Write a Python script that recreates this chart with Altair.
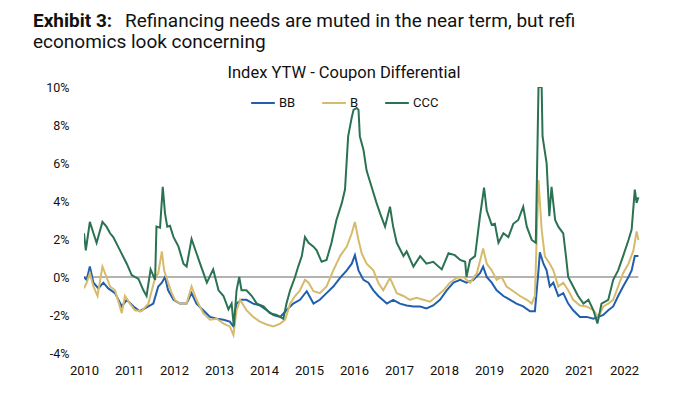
import altair as alt
import pandas as pd

# ---- data (decimal years, % differential) ----
bb_t = [2010.00, 2010.06, 2010.13, 2010.21, 2010.32, 2010.43, 2010.54, 2010.69, 2010.84, 2010.95,
        2011.10, 2011.24, 2011.43, 2011.54, 2011.65, 2011.73, 2011.80, 2011.87, 2011.99, 2012.13,
        2012.28, 2012.39, 2012.50, 2012.65, 2012.80, 2012.95, 2013.10, 2013.24, 2013.32, 2013.39,
        2013.50, 2013.61, 2013.76, 2013.91, 2014.06, 2014.21, 2014.36, 2014.50, 2014.65, 2014.80,
        2014.95, 2015.10, 2015.24, 2015.39, 2015.54, 2015.69, 2015.84, 2015.95, 2016.02, 2016.10,
        2016.21, 2016.32, 2016.43, 2016.54, 2016.73, 2016.87, 2017.02, 2017.17, 2017.32, 2017.47,
        2017.61, 2017.76, 2017.91, 2018.06, 2018.21, 2018.36, 2018.50, 2018.65, 2018.80, 2018.87,
        2018.95, 2019.06, 2019.17, 2019.32, 2019.47, 2019.61, 2019.76, 2019.91, 2020.02, 2020.10,
        2020.13, 2020.21, 2020.28, 2020.35, 2020.43, 2020.54, 2020.65, 2020.76, 2020.87, 2021.02,
        2021.17, 2021.32, 2021.43, 2021.54, 2021.65, 2021.76, 2021.87, 2021.98, 2022.10, 2022.17,
        2022.24, 2022.32]
bb_v = [0.0, -0.15, 0.55, -0.3, -0.6, -0.3, -0.6, -0.85, -1.55, -1.2,
        -1.55, -1.8, -1.55, -1.4, -0.5, -0.3, 0.0, -0.7, -1.2, -1.4,
        -1.4, -0.85, -1.4, -1.75, -2.1, -2.2, -2.25, -2.35, -2.6, -1.4,
        -1.2, -1.2, -1.4, -1.5, -1.75, -2.0, -2.1, -1.75, -1.4, -1.2,
        -0.75, -1.4, -1.2, -0.85, -0.5, -0.05, 0.35, 0.7, 1.15, 0.35,
        -0.15, -0.3, -0.7, -1.0, -1.4, -1.2, -1.4, -1.5, -1.55, -1.55,
        -1.65, -1.5, -1.2, -0.7, -0.3, -0.15, -0.3, -0.15, 0.2, 0.55,
        0.0, -0.3, -0.7, -1.0, -1.2, -1.4, -1.55, -1.8, -1.8, 0.35,
        1.3, 0.7, 0.35, -0.5, -0.3, -1.0, -0.85, -1.4, -1.75, -2.1,
        -2.1, -2.2, -2.1, -2.0, -1.75, -1.55, -1.0, -0.5, 0.0, 0.35,
        1.1, 1.1]

b_t = [2010.00, 2010.06, 2010.13, 2010.21, 2010.30, 2010.41, 2010.50, 2010.58, 2010.69, 2010.84,
       2010.91, 2011.02, 2011.13, 2011.28, 2011.43, 2011.58, 2011.65, 2011.73, 2011.78, 2011.87,
       2011.95, 2012.02, 2012.13, 2012.28, 2012.39, 2012.50, 2012.65, 2012.80, 2012.95, 2013.10,
       2013.24, 2013.32, 2013.39, 2013.47, 2013.61, 2013.76, 2013.91, 2014.06, 2014.21, 2014.36,
       2014.47, 2014.58, 2014.69, 2014.80, 2014.91, 2014.99, 2015.10, 2015.24, 2015.39, 2015.54,
       2015.69, 2015.84, 2015.95, 2016.02, 2016.10, 2016.17, 2016.28, 2016.43, 2016.54, 2016.65,
       2016.80, 2016.95, 2017.10, 2017.24, 2017.39, 2017.54, 2017.69, 2017.84, 2017.99, 2018.13,
       2018.28, 2018.43, 2018.58, 2018.73, 2018.87, 2018.95, 2019.06, 2019.17, 2019.28, 2019.39,
       2019.54, 2019.69, 2019.84, 2019.95, 2020.02, 2020.10, 2020.17, 2020.24, 2020.35, 2020.43,
       2020.54, 2020.65, 2020.76, 2020.87, 2021.02, 2021.17, 2021.32, 2021.43, 2021.54, 2021.65,
       2021.76, 2021.87, 2021.98, 2022.10, 2022.21, 2022.28, 2022.32]
b_v = [-0.6, -0.3, 0.2, -0.5, -1.0, 0.55, 0.0, -0.5, -0.7, -1.9,
       -1.0, -1.4, -1.75, -1.8, -1.4, -0.05, 0.2, 1.35, 0.35, -0.3,
       -0.85, -1.2, -1.4, -1.4, -0.5, -1.2, -1.9, -2.25, -2.2, -2.45,
       -2.6, -3.05, -1.75, -1.2, -1.75, -2.1, -2.35, -2.5, -2.6, -2.45,
       -2.25, -1.4, -1.0, -0.7, -0.15, -0.3, -0.75, -0.85, -0.5, 0.35,
       1.1, 1.6, 2.3, 2.9, 1.95, 1.25, 0.7, 0.35, -0.3, -0.7,
       -0.05, -0.85, -1.0, -1.2, -1.1, -1.2, -1.3, -1.0, -0.7, -0.3,
       -0.05, 0.0, -0.3, 0.2, 1.5, 0.7, 0.35, -0.15, 0.0, -0.5,
       -0.75, -1.0, -1.2, -1.4, -1.0, 5.1, 2.5, 1.1, 0.7, 0.35,
       -0.5, -0.3, -0.7, -1.2, -1.5, -1.55, -1.75, -2.1, -1.55, -1.4,
       -1.2, -0.5, 0.2, 0.7, 1.4, 2.4, 1.95]

ccc_t = [2010.00, 2010.04, 2010.13, 2010.21, 2010.28, 2010.41, 2010.50, 2010.58, 2010.65, 2010.80,
         2010.95, 2011.06, 2011.21, 2011.32, 2011.39, 2011.48, 2011.58, 2011.61, 2011.69, 2011.75,
         2011.80, 2011.85, 2011.91, 2011.99, 2012.10, 2012.21, 2012.28, 2012.39, 2012.50, 2012.58,
         2012.73, 2012.87, 2012.99, 2013.10, 2013.21, 2013.28, 2013.33, 2013.39, 2013.45, 2013.50,
         2013.61, 2013.73, 2013.84, 2013.99, 2014.13, 2014.28, 2014.43, 2014.50, 2014.58, 2014.69,
         2014.76, 2014.84, 2014.91, 2014.99, 2015.10, 2015.17, 2015.28, 2015.39, 2015.50, 2015.61,
         2015.73, 2015.80, 2015.87, 2015.95, 2015.99, 2016.06, 2016.10, 2016.13, 2016.21, 2016.28,
         2016.39, 2016.50, 2016.58, 2016.69, 2016.80, 2016.87, 2016.95, 2017.10, 2017.17, 2017.32,
         2017.47, 2017.61, 2017.76, 2017.95, 2018.10, 2018.24, 2018.36, 2018.47, 2018.50, 2018.58,
         2018.69, 2018.80, 2018.89, 2018.95, 2019.06, 2019.13, 2019.21, 2019.32, 2019.43, 2019.54,
         2019.65, 2019.76, 2019.84, 2019.95, 2020.04, 2020.10, 2020.17, 2020.19, 2020.28, 2020.34,
         2020.39, 2020.47, 2020.54, 2020.65, 2020.71, 2020.76, 2020.87, 2020.98, 2021.10, 2021.21,
         2021.32, 2021.41, 2021.50, 2021.65, 2021.76, 2021.87, 2021.98, 2022.10, 2022.17, 2022.24,
         2022.28, 2022.32]
ccc_v = [2.3, 1.4, 2.9, 2.3, 1.8, 2.9, 2.65, 2.3, 2.1, 1.4,
         0.7, 0.1, -0.1, -0.7, -1.0, 0.4, -0.15, 2.65, 2.6, 4.75,
         3.35, 2.65, 2.7, 2.1, 1.6, 0.7, 0.55, 2.0, 1.25, 0.7,
         -0.3, 0.4, -0.7, -1.0, -1.7, -1.4, -2.6, -0.7, 0.0, -0.7,
         -0.7, -1.0, -1.4, -1.55, -1.9, -2.0, -2.2, -1.4, -0.7, 0.0,
         0.55, 1.1, 2.1, 1.8, 1.6, 1.4, 0.8, 0.9, 1.8, 3.0,
         3.9, 4.6, 7.4, 8.4, 8.8, 8.9, 8.8, 7.4, 6.7, 5.6,
         4.75, 3.9, 3.35, 2.65, 3.7, 2.65, 1.8, 1.1, 1.35, 0.55,
         1.1, 0.7, 0.8, 0.4, 1.25, 1.15, 0.9, 0.8, 0.0, 0.9,
         1.1, 3.2, 4.7, 3.5, 2.75, 2.8, 1.8, 2.3, 2.1, 2.8,
         3.0, 3.7, 2.65, 1.95, 1.8, 10.0, 10.0, 7.4, 6.0, 3.2,
         4.75, 3.0, 2.65, 2.3, 1.1, 0.0, -0.5, -1.0, -1.4, -1.2,
         -1.75, -2.45, -1.4, -1.2, -0.15, 0.35, 1.1, 1.95, 2.5, 4.6,
         3.9, 4.2]

series_names = ["BB", "B", "CCC"]
series_colors = ["#1f5fae", "#d6bb6c", "#2a7252"]
y_ticks = [-4, -2, 0, 2, 4, 6, 8, 10]
x_ticks = list(range(2010, 2023))

rows = []
for name, ts, vs in [("BB", bb_t, bb_v), ("B", b_t, b_v), ("CCC", ccc_t, ccc_v)]:
    for t, v in zip(ts, vs):
        rows.append({"date": t, "value": v, "series": name})
df = pd.DataFrame(rows)

FONT = "Roboto"

x_scale = alt.Scale(domain=[2010, 2022.4], nice=False, zero=False)
y_scale = alt.Scale(domain=[-4, 10], nice=False)

x_axis = alt.Axis(values=x_ticks, format="d", domain=False, ticks=False, grid=False,
                  labelPadding=11, labelFontSize=13, labelColor="#111",
                  labelFont=FONT, labelFlush=False, labelOverlap=False)
y_axis = alt.Axis(values=y_ticks, labelExpr="datum.value + '%'", domain=False,
                  ticks=False, grid=False, labelPadding=15, labelFontSize=12.5,
                  labelColor="#111", labelFont=FONT, labelOverlap=False,
                  labelFlush=False)

lines = alt.Chart(df).mark_line(strokeWidth=2, clip=True).encode(
    x=alt.X("date:Q", scale=x_scale, title=None, axis=x_axis),
    y=alt.Y("value:Q", scale=y_scale, title=None, axis=y_axis),
    color=alt.Color("series:N", scale=alt.Scale(domain=series_names, range=series_colors),
                    sort=series_names,
                    legend=alt.Legend(title=None, orient="none", direction="horizontal",
                                      legendX=166, legendY=3, symbolType="stroke",
                                      symbolSize=560, symbolStrokeWidth=2, columnPadding=22,
                                      labelFontSize=13, labelFont=FONT, labelColor="#111",
                                      labelOffset=3)),
    order="date:Q",
)

zero_df = pd.DataFrame({"start": [2010.0], "end": [2022.32], "y": [0.0]})
zero = alt.Chart(zero_df).mark_rule(color="#9a9a9a", strokeWidth=1.5).encode(
    x=alt.X("start:Q", scale=x_scale, title=None, axis=x_axis), x2="end:Q",
    y=alt.Y("y:Q", scale=y_scale, title=None, axis=y_axis))

title_df = pd.DataFrame({"t": [""]})
def label(text, x, y, size, weight="normal", align="left"):
    return alt.Chart(title_df).mark_text(
        text=text, font=FONT, fontSize=size, fontWeight=weight, align=align,
        baseline="alphabetic", color="#111").encode(x=alt.value(x), y=alt.value(y))

t1 = label("Exhibit 3:", -51, -60, 19, "bold")
t2 = label("Refinancing needs are muted in the near term, but refi", 41, -60, 19)
t3 = label("economics look concerning", -51, -39, 19)
t4 = label("Index YTW - Coupon Differential", 260, -9, 16.5, align="center")

chart = alt.layer(zero, lines, t1, t2, t3, t4).properties(
    width=558, height=266,
    autosize=alt.AutoSizeParams(type="none"),
    padding={"left": 76, "top": 79, "right": 50, "bottom": 33},
).configure_view(stroke=None)

chart.save("out.html", embed_options={"renderer": "svg", "actions": False})
